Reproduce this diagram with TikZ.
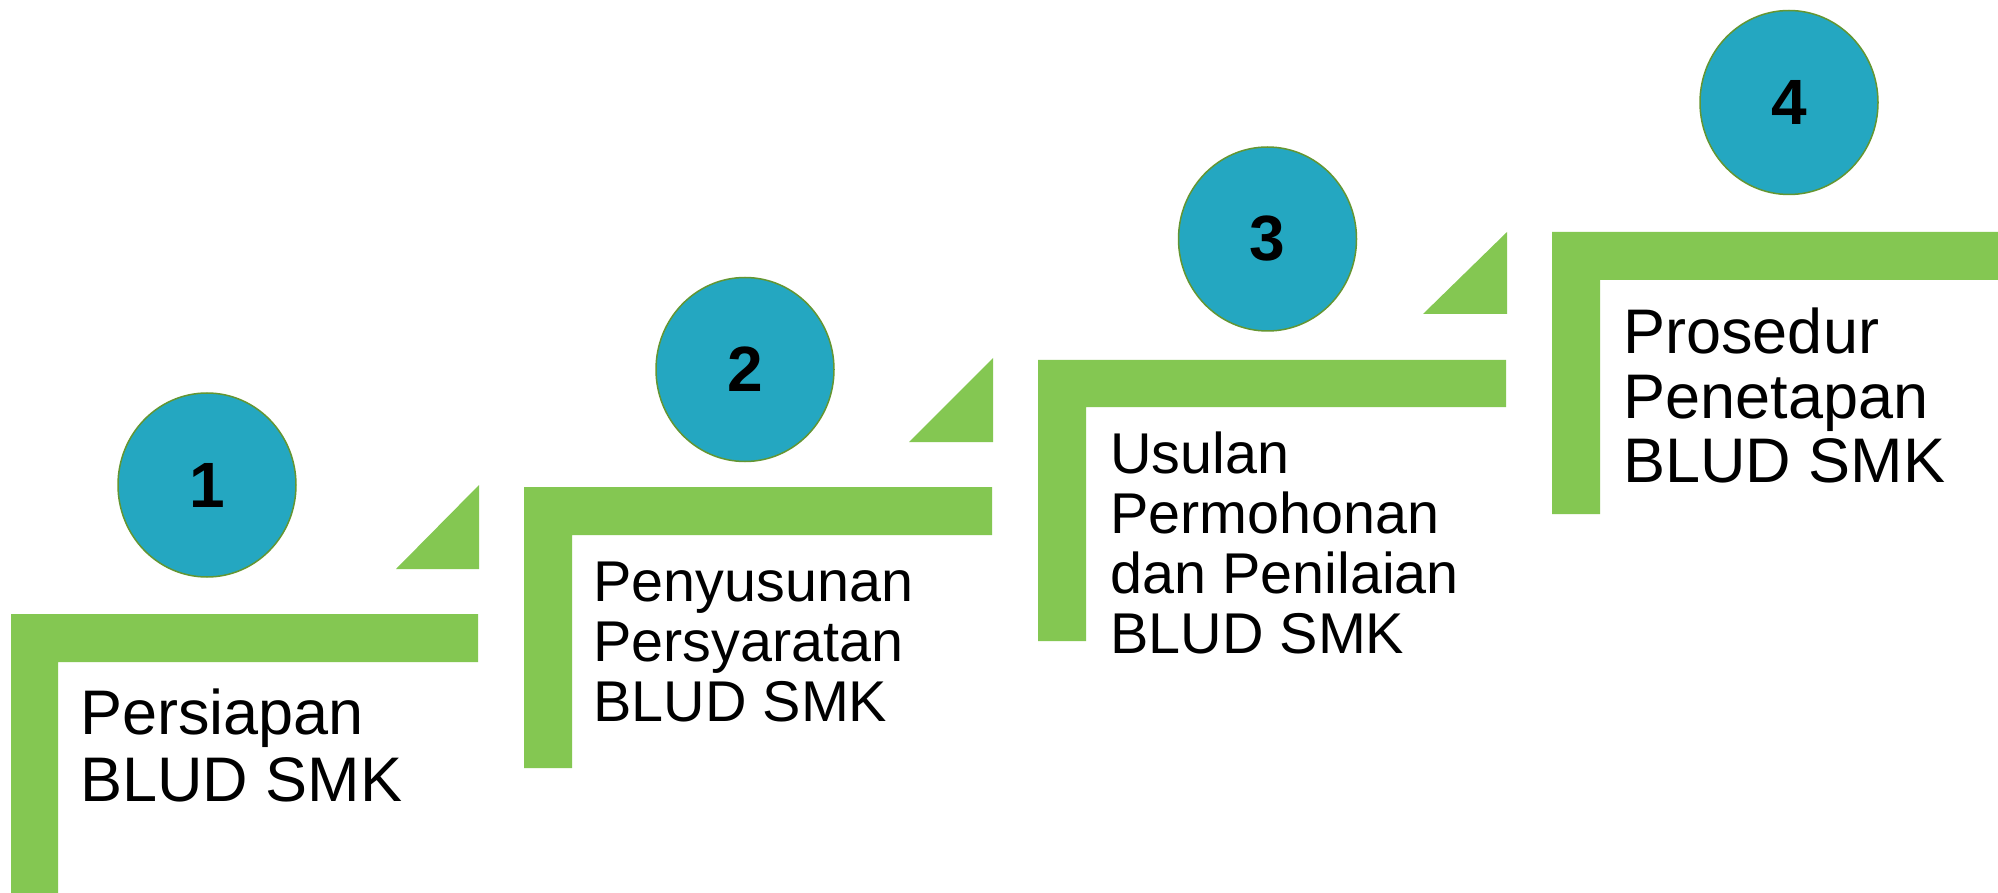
\documentclass[tikz,border=0pt]{standalone}
\usepackage{fontspec}
\setmainfont{Liberation Sans}
\usetikzlibrary{shapes.geometric}
\definecolor{stepgreen}{RGB}{132,199,82}
\definecolor{circteal}{RGB}{36,167,193}
\definecolor{rimgreen}{RGB}{100,150,50}
\begin{document}
\begin{tikzpicture}[x=0.5pt,y=-0.5pt,
  bar/.style={fill=stepgreen,draw=none},
  num/.style={ellipse,fill=circteal,draw=rimgreen,line width=0.75pt,
    minimum width=89pt,minimum height=92pt,inner sep=0pt,
    font=\fontsize{32}{36}\selectfont\bfseries},
  bigtext/.style={anchor=base west,inner sep=0pt,font=\fontsize{31.5}{33.5}\selectfont},
  smalltext/.style={anchor=base west,inner sep=0pt,font=\fontsize{28.75}{30}\selectfont}]
\useasboundingbox (0,0) rectangle (1998,893);
\fill[white] (0,0) rectangle (1998,893);

% Step 1
\fill[bar] (11,614) -- (478,614) -- (478,662) -- (58,662) -- (58,893) -- (11,893) -- cycle;
\fill[bar] (396,569) -- (479,569) -- (479,485) -- cycle;
\node[num] (c1) at (207,485) {1};
\node[bigtext] (t1) at (80,734) {\begin{tabular}[t]{@{}l@{}}Persiapan\\BLUD SMK\end{tabular}};

% Step 2
\fill[bar] (524,487) -- (992,487) -- (992,535) -- (572,535) -- (572,768) -- (524,768) -- cycle;
\fill[bar] (909,442) -- (993,442) -- (993,358) -- cycle;
\node[num] (c2) at (745,369.5) {2};
\node[smalltext] (t2) at (593,601) {\begin{tabular}[t]{@{}l@{}}Penyusunan\\Persyaratan\\BLUD SMK\end{tabular}};

% Step 3
\fill[bar] (1038,360) -- (1506,360) -- (1506,407) -- (1086,407) -- (1086,641) -- (1038,641) -- cycle;
\fill[bar] (1423,314) -- (1507,314) -- (1507,232) -- cycle;
\node[num] (c3) at (1267.5,239) {3};
\node[smalltext] (t3) at (1110,473) {\begin{tabular}[t]{@{}l@{}}Usulan\\Permohonan\\dan Penilaian\\BLUD SMK\end{tabular}};

% Step 4
\fill[bar] (1552,232) -- (1998,232) -- (1998,280) -- (1600,280) -- (1600,514) -- (1552,514) -- cycle;
\node[num] (c4) at (1789,102.5) {4};
\node[bigtext,font=\fontsize{31.5}{32.5}\selectfont] (t4) at (1623,353) {\begin{tabular}[t]{@{}l@{}}Prosedur\\Penetapan\\BLUD SMK\end{tabular}};
\end{tikzpicture}
\end{document}
